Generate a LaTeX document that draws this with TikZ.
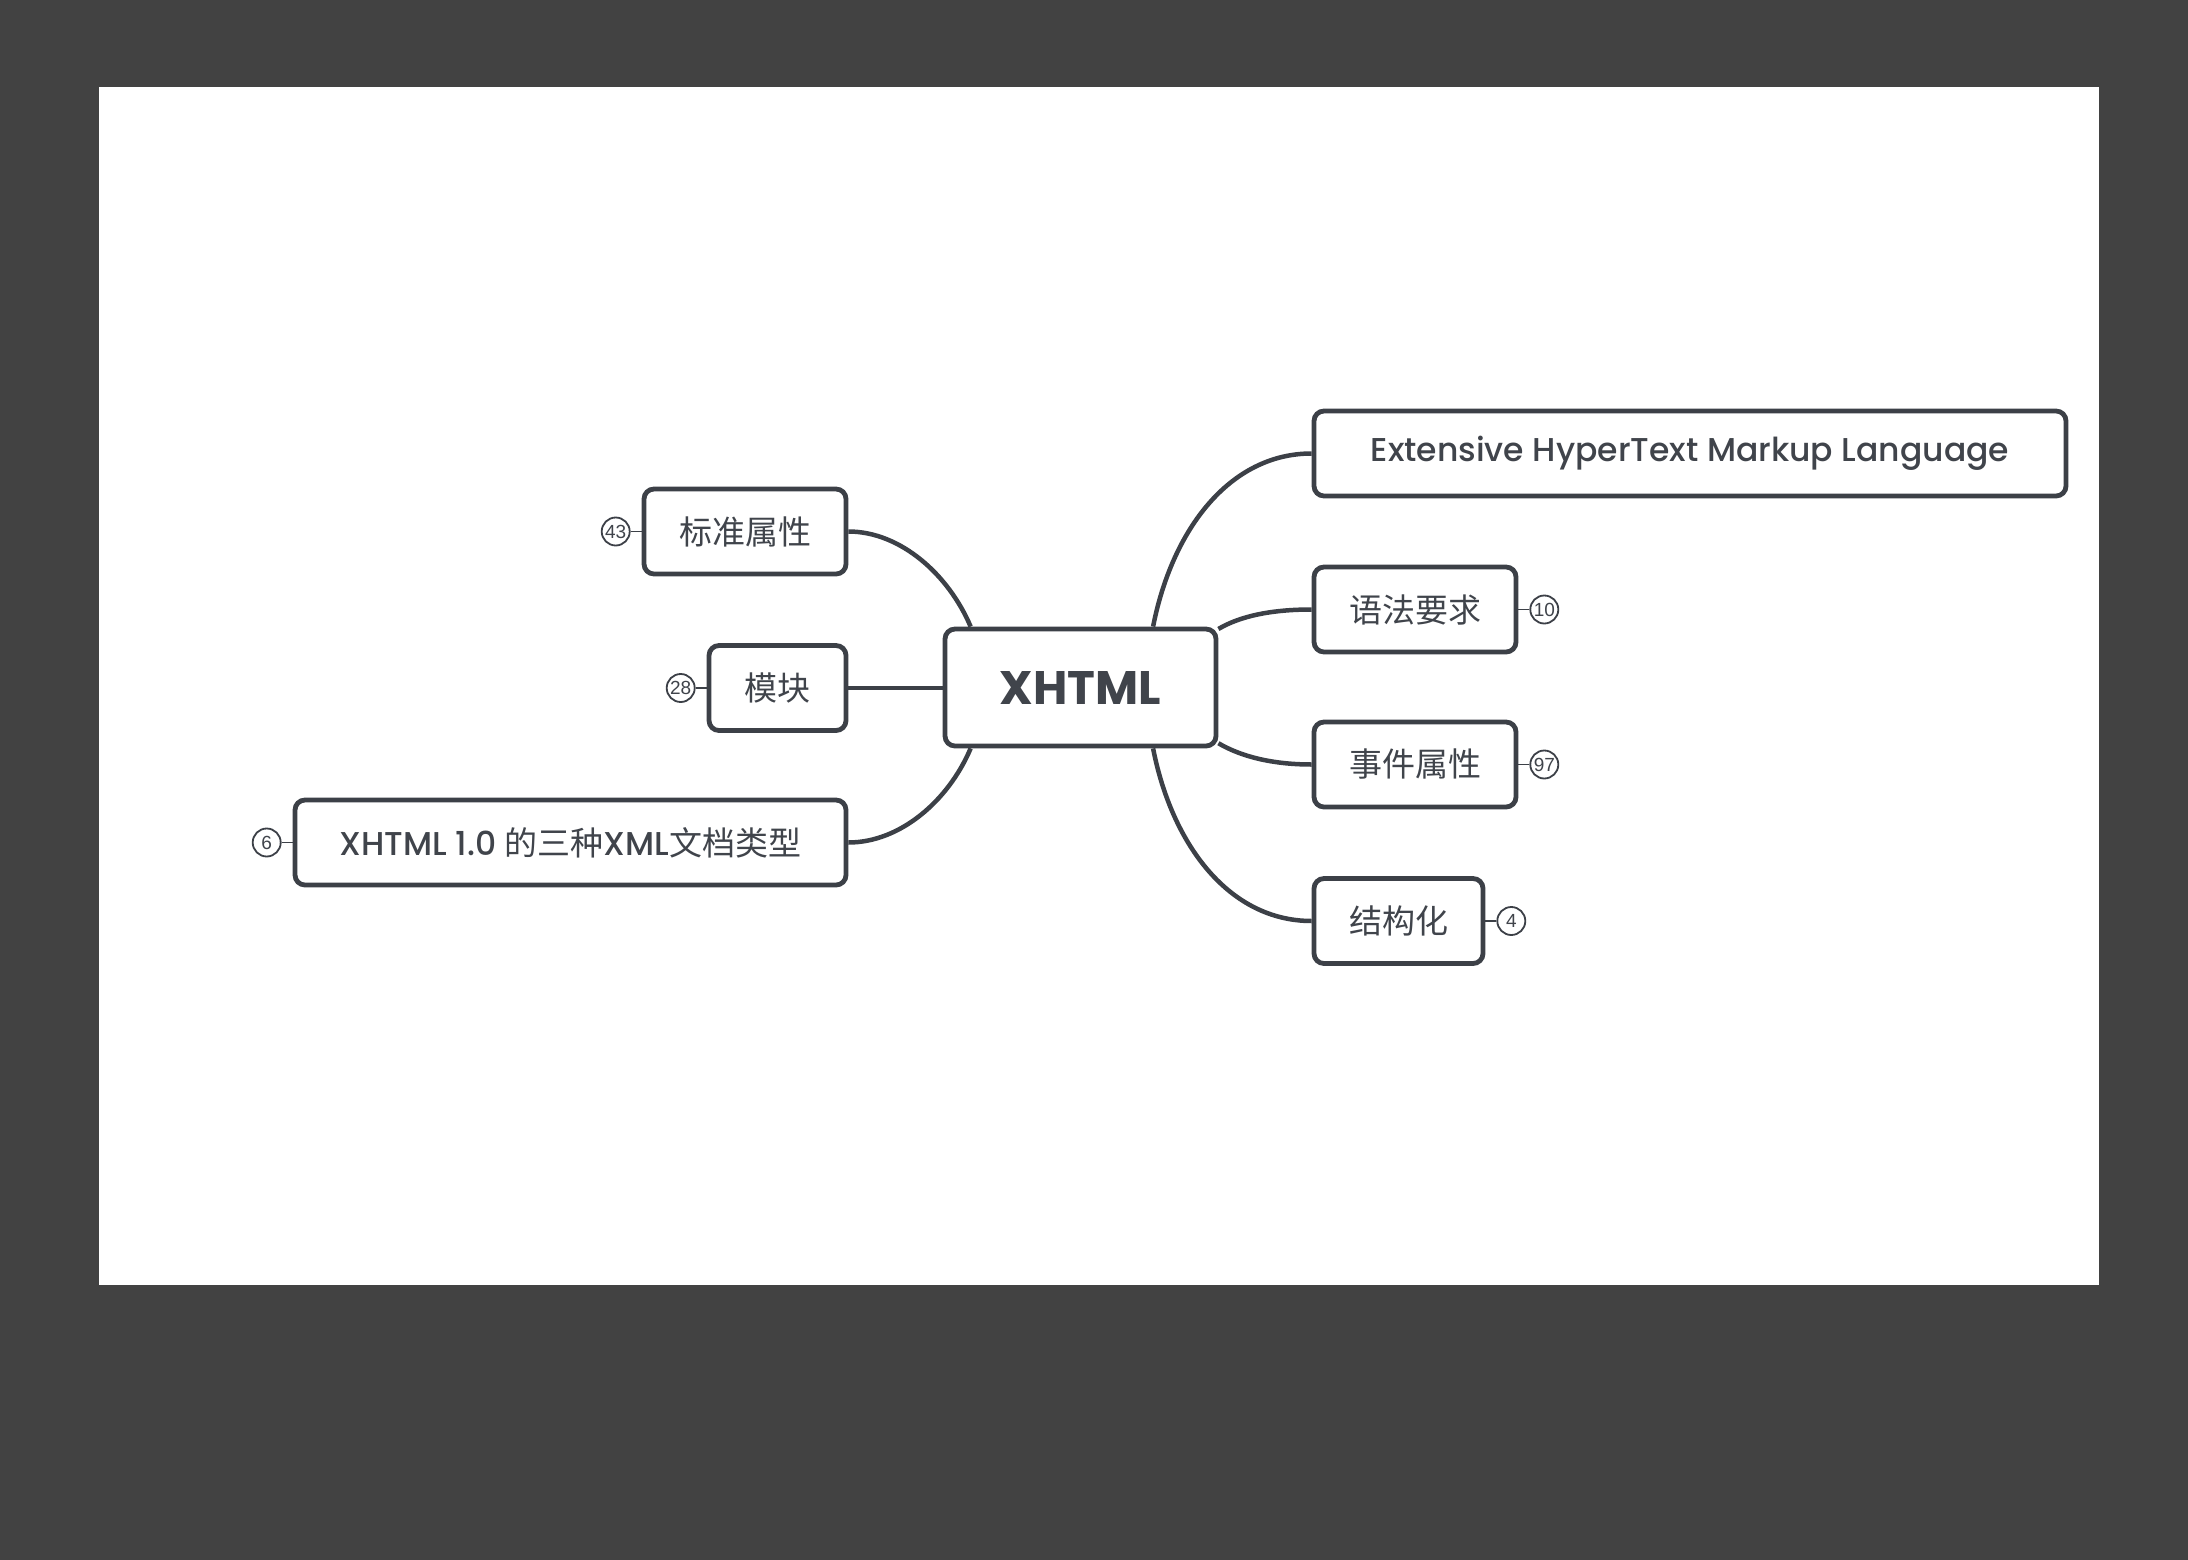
\documentclass[tikz,border=0pt]{standalone}
\usepackage{fontspec}
\setmainfont{Poppins}[UprightFont=* Medium, BoldFont=* Bold]
\newfontfamily\cjk{Noto Sans CJK SC}
\newfontfamily\numfont{Liberation Sans}
\usetikzlibrary{positioning}
\definecolor{frame}{RGB}{66,66,66}
\definecolor{ink}{RGB}{60,64,71}
\definecolor{txt}{RGB}{64,68,75}
\pgfdeclarelayer{edges}
\pgfsetlayers{edges,main}
\tikzset{
  topic/.style={draw=ink, line width=4.8pt, fill=white, rounded corners=10pt,
    minimum height=85pt, inner sep=0pt, text=txt, font=\fontsize{33}{38}\selectfont},
  central/.style={topic, minimum height=117pt, font=\bfseries\fontsize{47}{52}\selectfont},
  badge/.style={draw=ink, line width=1.8pt, circle, minimum size=28pt, inner sep=0pt,
    fill=white, text=txt, font=\numfont\fontsize{19}{19}\selectfont},
  link/.style={draw=ink, line width=4.5pt},
  tick/.style={draw=ink, line width=1.8pt}
}
\begin{document}
\begin{tikzpicture}[x=1pt, y=-1pt]
\useasboundingbox (0,0) rectangle (2188,1560);

% main topic and its branches
\node[central, minimum width=271pt] (c) at (1080.5,687.5) {XHTML};

\node[topic, minimum width=202pt] (n1) at (745,531.5) {\cjk 标准属性};
\node[topic, minimum width=137pt] (n2) at (777.5,688) {\cjk 模块};
\node[topic, minimum width=551pt] (n3) at (570.5,842.5)
  {XHTML 1.0 {\cjk 的三种}XML{\cjk 文档类型}};

\node[topic, minimum width=752pt] (r1) at (1690,453.5) {Extensive HyperText Markup Language};
\node[topic, minimum width=202pt] (r2) at (1415,609.5) {\cjk 语法要求};
\node[topic, minimum width=202pt] (r3) at (1415,764.5) {\cjk 事件属性};
\node[topic, minimum width=169pt] (r4) at (1398.5,921) {\cjk 结构化};

% counters of collapsed sub-topics
\node[badge, left=11pt of n1] (b1) {43};
\node[badge, left=11pt of n2] (b2) {28};
\node[badge, left=11pt of n3] (b3) {6};
\node[badge, right=11pt of r2] (b4) {10};
\node[badge, right=11pt of r3] (b5) {97};
\node[badge, right=11pt of r4] (b6) {4};

\begin{pgfonlayer}{edges}
  \fill[frame] (0,0) rectangle (2188,1560);
  \fill[white] (99,87) rectangle (2099,1285);

  \draw[link] (n1.east) .. controls +(52,0) and +(-22,-52) .. (c.151);
  \draw[link] (n2.east) -- (n2.east -| c.west);
  \draw[link] (n3.east) .. controls +(52,0) and +(-22,52) .. (c.209);

  \draw[link] (c.40) .. controls +(19,-97) and +(-82,0) .. (r1.west);
  \draw[link] (c.23) .. controls +(22,-13) and +(-40,0) .. (r2.west);
  \draw[link] (c.338) .. controls +(22,13) and +(-40,0) .. (r3.west);
  \draw[link] (c.320) .. controls +(19,97) and +(-82,0) .. (r4.west);

  \draw[tick] (b1) -- (n1);
  \draw[tick] (b2) -- (n2);
  \draw[tick] (b3) -- (n3);
  \draw[tick] (b4) -- (r2);
  \draw[tick] (b5) -- (r3);
  \draw[tick] (b6) -- (r4);
\end{pgfonlayer}
\end{tikzpicture}
\end{document}
